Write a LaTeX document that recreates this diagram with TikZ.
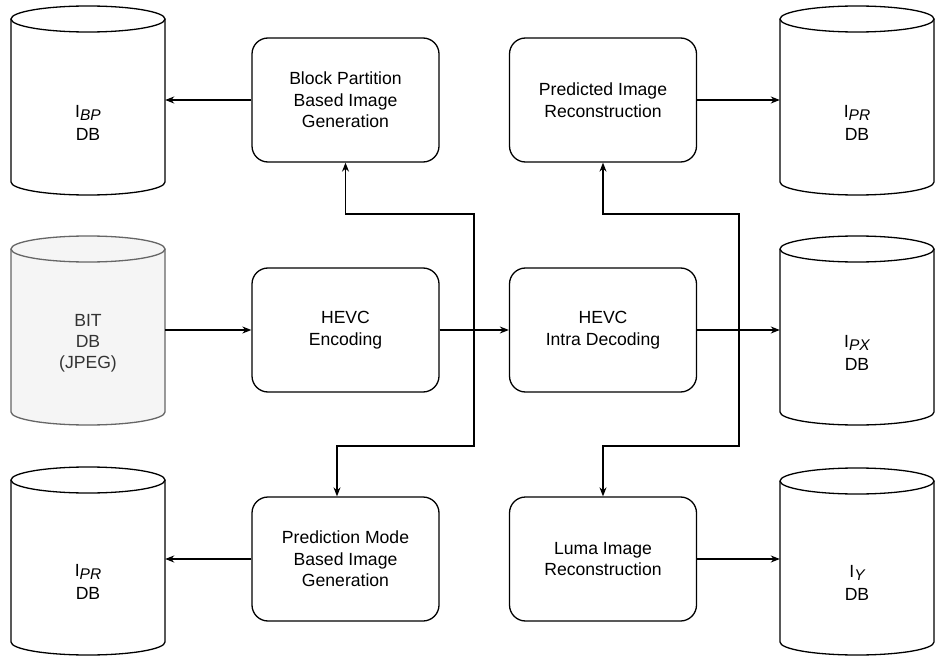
\documentclass[tikz,border=0pt]{standalone}
\usepackage{fontspec}
\setmainfont{Liberation Sans}
\usetikzlibrary{arrows.meta}
\definecolor{bitfill}{HTML}{F5F5F5}
\definecolor{bitdraw}{HTML}{666666}
\definecolor{bittext}{HTML}{333333}
\newcommand{\isub}[1]{I\raisebox{-2.5pt}{\fontsize{15.5}{15.5}\selectfont\itshape #1}}
% name, cx, top, bottom, fill colour, draw colour
\newcommand{\dbcyl}[6]{%
  \node[dbbox, minimum height={(#4-#3)*1pt}] (#1) at (#2,{(#3+#4)/2}) {};
  \fill[#5] (#2-77,#3+13) -- (#2-77,#4-13)
     arc[start angle=180,end angle=0,x radius=77,y radius=13]
     -- (#2+77,#3+13)
     arc[start angle=0,end angle=-180,x radius=77,y radius=13] -- cycle;
  \draw[cylline,draw=#6] (#2-77,#3+13) -- (#2-77,#4-13)
     arc[start angle=180,end angle=0,x radius=77,y radius=13]
     -- (#2+77,#3+13);
  \draw[cylline,draw=#6] (#2,#3+13) ellipse[x radius=77,y radius=13];
}
\tikzset{
  dbbox/.style={draw=none, inner sep=0pt, minimum width=154pt},
  cylline/.style={line width=1.3pt},
  cyltext/.style={align=center, font=\fontsize{17.6}{23}\selectfont, inner sep=0pt},
  procbox/.style={draw, line width=1.3pt, rounded corners=16pt,
    minimum width=187pt, minimum height=124pt, align=center, inner sep=0pt,
    font=\fontsize{17.6}{21.6}\selectfont},
  conn/.style={line width=1.3pt, -{Stealth[length=9pt,width=7pt]}},
  plainline/.style={line width=1.3pt}
}
\begin{document}
\begin{tikzpicture}[x=1pt,y=-1pt]
\useasboundingbox (0,0) rectangle (935,658);

% databases
\dbcyl{cbp}{88}{6}{195}{white}{black}
\dbcyl{cbit}{88}{236}{425}{bitfill}{bitdraw}
\dbcyl{cprl}{88}{467}{655}{white}{black}
\dbcyl{cprr}{857}{6}{195}{white}{black}
\dbcyl{cpx}{857}{236}{425}{white}{black}
\dbcyl{cy}{857}{468}{655}{white}{black}

\node[cyltext] (tbp) at (88,123) {\isub{BP}\\DB};
\node[cyltext, text=bittext, font=\fontsize{17.6}{20.8}\selectfont] (tbit) at (88,343) {BIT\\DB\\(JPEG)};
\node[cyltext] (tprl) at (88,582) {\isub{PR}\\DB};
\node[cyltext] (tprr) at (857,123) {\isub{PR}\\DB};
\node[cyltext] (tpx) at (857,353) {\isub{PX}\\DB};
\node[cyltext] (ty) at (857,583) {\isub{Y}\\DB};

% process boxes
\node[procbox] (bpbox) at (345.5,100) {Block Partition\\Based Image\\Generation};
\node[procbox] (pibox) at (603,100) {Predicted Image\\Reconstruction};
\node[procbox] (enc) at (345.5,330) {HEVC\\Encoding};
\node[procbox] (dec) at (603,330) {HEVC\\Intra Decoding};
\node[procbox] (pmbox) at (345.5,559) {Prediction Mode\\Based Image\\Generation};
\node[procbox] (lumabox) at (603,559) {Luma Image\\Reconstruction};

% routing points
\coordinate (t1) at (474,214);
\coordinate (b1) at (474,446);
\coordinate (b1l) at (337,446);
\coordinate (t2) at (739,214);
\coordinate (b2) at (739,446);

% connectors
\draw[conn] (cbit.east |- enc.west) -- (enc.west);
\draw[conn] (enc.east) -- (dec.west);
\draw[conn] (dec.east) -- (dec.east -| cpx.west);
\draw[conn] (enc.east) -- (enc.east -| t1) -- (t1) -- (t1 -| bpbox.south) -- (bpbox.south);
\draw[conn] (enc.east) -- (enc.east -| b1) -- (b1) -- (b1l) -- (b1l |- pmbox.north);
\draw[conn] (dec.east) -- (dec.east -| t2) -- (t2) -- (t2 -| pibox.south) -- (pibox.south);
\draw[conn] (dec.east) -- (dec.east -| b2) -- (b2) -- (b2 -| lumabox.north) -- (lumabox.north);
\draw[conn] (bpbox.west) -- (bpbox.west -| cbp.east);
\draw[conn] (pmbox.west) -- (pmbox.west -| cprl.east);
\draw[conn] (pibox.east) -- (pibox.east -| cprr.west);
\draw[conn] (lumabox.east) -- (lumabox.east -| cy.west);
\end{tikzpicture}
\end{document}
